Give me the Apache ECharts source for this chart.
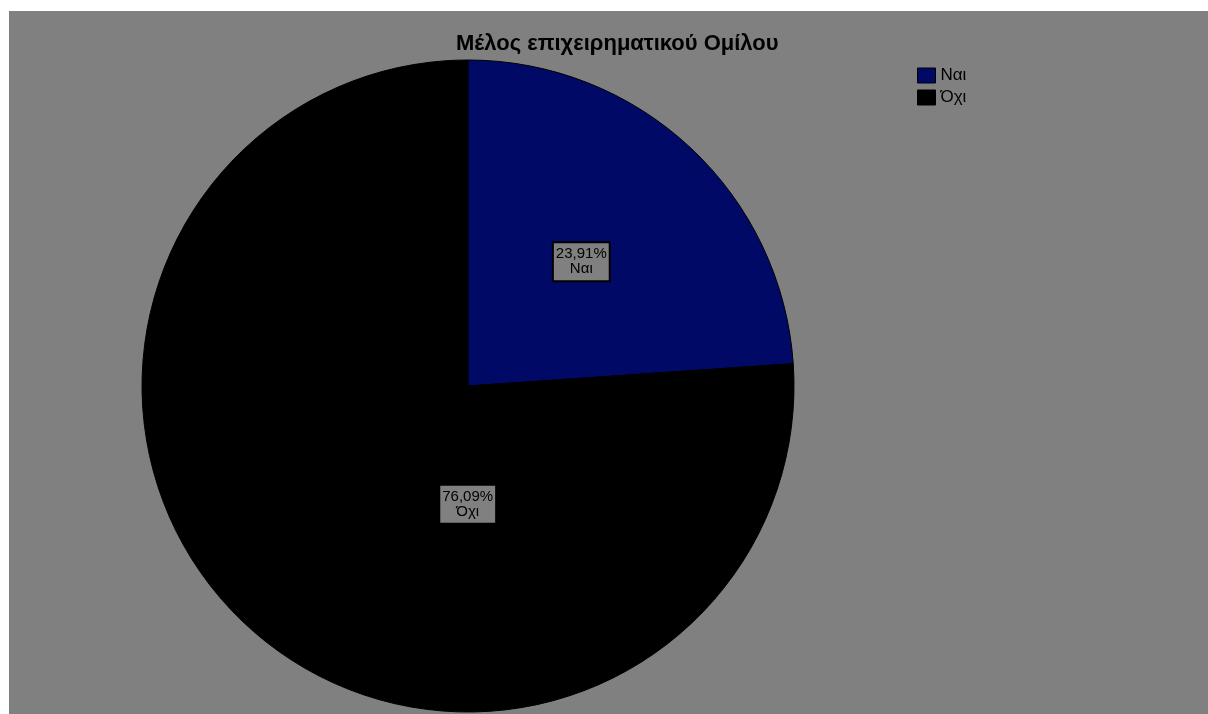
<!DOCTYPE html>
<html>
<head>
<meta charset="utf-8">
<script src="https://cdn.jsdelivr.net/npm/echarts@6/dist/echarts.min.js"></script>
<style>
  html, body { margin: 0; padding: 0; background: #ffffff; }
  #chart { position: absolute; left: 9px; top: 11px; width: 1199px; height: 703px; background: #808080; }
</style>
</head>
<body>
<div id="chart"></div>
<script>
// Group membership share
const chartTitle = 'Μέλος επιχειρηματικού Ομίλου';
const categories = ['Ναι', 'Όχι'];
const shares = [23.91, 76.09];
const sliceColors = ['#000a66', '#000000'];

const fmtPct = v => v.toFixed(2).replace('.', ',') + '%';

// label nudges for each slice (pixels)
const labelOffsets = [[0, -3], [113, -3]];

const chart = echarts.init(document.getElementById('chart'), null, { renderer: 'canvas' });

const seriesData = categories.map((name, i) => ({
  name,
  value: shares[i],
  itemStyle: { color: sliceColors[i] },
  label: { offset: labelOffsets[i] }
}));

chart.setOption({
  backgroundColor: '#808080',
  animation: false,
  title: {
    text: chartTitle,
    left: 442,
    top: 17,
    textStyle: { fontFamily: 'Liberation Sans, Arial, sans-serif', fontSize: 22, fontWeight: 'bold', color: '#000' }
  },
  legend: {
    orient: 'vertical',
    left: 903,
    top: 51,
    icon: 'rect',
    itemWidth: 18,
    itemHeight: 15,
    itemGap: 5,
    selectedMode: false,
    data: categories,
    itemStyle: { borderColor: '#000', borderWidth: 1 },
    textStyle: { fontFamily: 'Liberation Sans, Arial, sans-serif', fontSize: 17, color: '#000', padding: [0, 0, 0, 0] }
  },
  series: [{
    type: 'pie',
    center: [459, 375],
    radius: 326,
    startAngle: 90,
    clockwise: true,
    avoidLabelOverlap: false,
    itemStyle: { borderColor: '#000', borderWidth: 1 },
    label: {
      show: true,
      position: 'inside',
      formatter: p => fmtPct(p.value) + '\n' + p.name,
      fontFamily: 'Liberation Sans, Arial, sans-serif',
      fontSize: 15,
      lineHeight: 15,
      color: '#000',
      align: 'center',
      backgroundColor: '#808080',
      borderColor: '#000',
      borderWidth: 2,
      padding: [4, 2, 3, 2]
    },
    labelLine: { show: false },
    emphasis: { disabled: true },
    data: seriesData
  }]
});
</script>
</body>
</html>
